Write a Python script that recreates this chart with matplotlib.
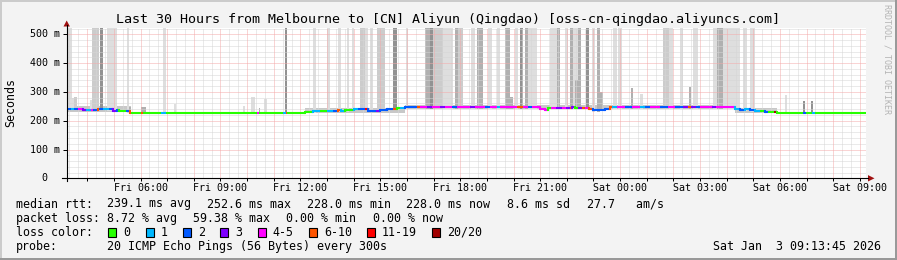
import matplotlib
matplotlib.use("Agg")
import matplotlib.pyplot as plt
import numpy as np
from matplotlib.transforms import Affine2D
from matplotlib.patches import Rectangle, Polygon
from matplotlib.collections import LineCollection
from matplotlib.lines import Line2D

W, H, DPI = 897, 260, 100
MONO = "DejaVu Sans Mono"

# ---------------- data ----------------
TITLE = "Last 30 Hours from Melbourne to [CN] Aliyun (Qingdao) [oss-cn-qingdao.aliyuncs.com]"
T_START = 3 + 13.75 / 60.0          # Fri 03:13:45, hours since Fri 00:00
T_END = T_START + 30.0
Y_MAX = 524                          # ms

x_tick_hours = [6, 9, 12, 15, 18, 21, 24, 27, 30, 33]
x_tick_labels = ["Fri 06:00", "Fri 09:00", "Fri 12:00", "Fri 15:00", "Fri 18:00",
                 "Fri 21:00", "Sat 00:00", "Sat 03:00", "Sat 06:00", "Sat 09:00"]
y_tick_values = [0, 100, 200, 300, 400, 500]
y_tick_labels = ["0", "100 m", "200 m", "300 m", "400 m", "500 m"]

loss_labels = ["0", "1", "2", "3", "4-5", "6-10", "11-19", "20/20"]
loss_colors = ["#26ff00", "#00b8ff", "#0059ff", "#7e00ff",
               "#ff00ff", "#ff5500", "#ff0000", "#a10000"]

# median rtt segments: start hour, median ms, loss class
seg_start = [3.23, 3.38, 3.49, 3.64, 3.83, 3.94, 4.13, 4.20, 4.39, 4.46,
             4.61, 4.80, 4.95, 5.10, 5.18, 5.44, 5.59, 5.66, 6.00, 6.11,
             6.75, 6.94, 10.39, 10.46, 11.36, 11.46, 11.51, 12.19, 12.41, 12.49,
             12.75, 12.94, 13.01, 13.24, 13.43, 13.54, 13.69, 13.88, 14.03, 14.18,
             14.44, 14.55, 14.85, 15.00, 15.26, 15.49, 15.64, 15.75, 15.94, 16.39,
             16.50, 16.76, 16.95, 17.25, 17.44, 17.70, 17.89, 18.38, 18.56, 18.94,
             19.13, 19.39, 19.50, 20.14, 20.36, 20.55, 20.70, 21.00, 21.19, 21.30,
             21.41, 21.60, 21.83, 21.98, 22.13, 22.20, 22.31, 22.43, 22.58, 22.69,
             22.84, 22.99, 23.25, 23.44, 23.63, 23.70, 23.89, 24.19, 24.45, 24.75,
             24.94, 25.13, 25.50, 25.80, 26.06, 26.36, 26.55, 26.66, 26.85, 27.00,
             27.45, 27.60, 28.31, 28.50, 28.69, 28.88, 29.06, 29.25, 29.44, 29.55,
             29.78, 29.89, 30.86, 30.98, 31.20, 31.31]
seg_ms = [241, 241, 240, 240, 239, 238, 238, 238, 240, 241,
          241, 240, 235, 236, 233, 233, 228, 228, 228, 228,
          228, 228, 228, 228, 228, 228, 228, 230, 232, 233,
          233, 235, 235, 235, 236, 235, 236, 238, 240, 241,
          241, 235, 235, 236, 242, 242, 243, 244, 247, 247,
          247, 247, 247, 247, 247, 247, 247, 247, 247, 247,
          247, 247, 247, 247, 247, 247, 247, 240, 238, 244,
          245, 245, 246, 246, 246, 247, 245, 246, 246, 245,
          242, 237, 238, 240, 247, 247, 247, 247, 247, 247,
          247, 247, 247, 247, 247, 247, 247, 247, 247, 247,
          247, 247, 240, 239, 240, 236, 235, 233, 232, 231,
          230, 228, 228, 228, 228, 228]
seg_loss = [2, 1, 2, 4, 3, 1, 4, 2, 5, 2,
            1, 2, 3, 2, 0, 2, 5, 0, 5, 0,
            1, 0, 4, 0, 1, 5, 0, 0, 0, 1,
            0, 0, 1, 2, 5, 1, 0, 0, 1, 2,
            6, 2, 3, 2, 2, 5, 0, 1, 2, 5,
            4, 3, 4, 3, 4, 2, 4, 3, 4, 2,
            4, 1, 4, 5, 4, 2, 4, 4, 4, 0,
            4, 3, 4, 3, 5, 3, 0, 3, 5, 4,
            5, 2, 2, 2, 5, 1, 4, 2, 4, 1,
            2, 4, 2, 4, 2, 3, 5, 3, 2, 4,
            3, 4, 1, 2, 1, 2, 1, 0, 2, 0,
            7, 0, 2, 0, 1, 0]

# thin smoke band around the median
band_start = [3.23, 12.19, 15.94, 28.31]
band_end = [5.66, 15.94, 28.31, 29.89]
band_lo = [231, 228, 240, 228]
band_hi = [250, 246, 254, 244]

# smoke bars: start hour, end hour, top ms (600 = off scale), shade class
bar_start = [3.29, 3.29, 3.50, 4.09, 4.16, 4.47, 4.76, 5.51, 5.55, 6.00,
             6.86, 7.24, 9.86, 10.13, 10.43, 10.65, 11.44, 12.49, 13.01, 13.43,
             13.76, 13.95, 14.25, 14.44, 14.63, 14.89, 15.49, 15.98, 16.69, 16.88,
             16.99, 17.36, 17.81, 17.93, 18.41, 18.64, 19.05, 19.39, 19.69, 19.88,
             20.06, 20.25, 20.44, 20.55, 21.38, 21.64, 21.94, 22.13, 22.24, 22.31,
             22.43, 22.73, 22.95, 23.14, 23.25, 23.74, 23.93, 24.41, 24.75, 25.61,
             25.84, 26.25, 26.59, 26.74, 27.49, 27.64, 27.86, 28.61, 28.88, 30.19,
             30.86, 31.16]
bar_end = [3.41, 3.63, 3.60, 4.20, 4.46, 4.60, 5.10, 5.58, 5.66, 6.19,
           6.94, 7.35, 9.94, 10.28, 10.50, 10.76, 11.51, 12.60, 13.13, 13.54,
           13.84, 14.03, 14.44, 14.55, 14.74, 15.19, 15.64, 16.05, 16.88, 16.99,
           17.36, 17.74, 17.93, 18.11, 18.56, 18.86, 19.20, 19.50, 19.88, 19.99,
           20.18, 20.36, 20.55, 20.89, 21.64, 21.75, 22.05, 22.24, 22.43, 22.43,
           22.54, 22.84, 23.06, 23.25, 23.36, 23.89, 24.08, 24.49, 24.86, 25.84,
           25.99, 26.36, 26.66, 26.93, 27.64, 27.86, 28.50, 28.76, 29.06, 30.26,
           30.94, 31.24]
bar_top = [600, 280, 282, 273, 600, 600, 600, 600, 249, 249,
           600, 259, 250, 284, 246, 276, 600, 600, 600, 600,
           600, 600, 600, 600, 600, 600, 600, 600, 600, 600,
           600, 600, 600, 600, 600, 600, 600, 600, 600, 283,
           600, 600, 600, 600, 600, 600, 600, 600, 600, 342,
           600, 600, 600, 600, 301, 600, 600, 314, 294, 600,
           600, 600, 316, 600, 600, 600, 600, 600, 600, 290,
           268, 268]
bar_shade = ["L", "L", "M", "L", "M", "K", "L", "L", "D", "D",
             "L", "L", "L", "L", "D", "L", "K", "L", "L", "L",
             "L", "L", "M", "L", "L", "M", "K", "L", "D", "K",
             "M", "L", "D", "M", "L", "D", "L", "L", "D", "D",
             "L", "K", "D", "L", "L", "D", "L", "D", "L", "D",
             "D", "K", "L", "D", "D", "L", "L", "D", "L", "M",
             "L", "L", "D", "L", "L", "D", "L", "L", "L", "L",
             "K", "K"]
shade_colors = {"L": "#dedede", "M": "#cccccc", "D": "#b0b0b0", "K": "#929292"}

rtt_row = [("median rtt:", 16.0), ("239.1 ms avg", 107.3), ("252.6 ms max", 207.3),
           ("228.0 ms min", 306.7), ("228.0 ms now", 406.0), ("8.6 ms sd", 507.3),
           ("27.7   am/s", 586.7)]
loss_row = [("packet loss:", 16.0), ("8.72 % avg", 107.3), ("59.38 % max", 192.7),
            ("0.00 % min", 286.0), ("0.00 % now", 372.7)]
probe_text = "20 ICMP Echo Pings (56 Bytes) every 300s"
date_text = "Sat Jan  3 09:13:45 2026"

# ---------------- figure ----------------
fig = plt.figure(figsize=(W / DPI, H / DPI), dpi=DPI, facecolor="#f3f3f3")
PX = Affine2D().scale(1.0 / W, -1.0 / H).translate(0, 1) + fig.transFigure

AX_L, AX_R, AX_T, AX_B = 66.7, 866.0, 27.5, 178.3
ax = fig.add_axes([AX_L / W, 1 - AX_B / H, (AX_R - AX_L) / W, (AX_B - AX_T) / H])
ax.set_xlim(T_START, T_END)
ax.set_ylim(0, Y_MAX)
ax.set_facecolor("white")
for s in ax.spines.values():
    s.set_visible(False)
ax.set_xticks(list(range(4, 34)))
ax.set_yticks(y_tick_values)
ax.tick_params(axis="x", length=2.0, width=0.72, direction="out", labelbottom=False, color="black")
ax.tick_params(axis="y", length=3.0, width=0.72, direction="out", labelleft=False, color="black")

# smoke band
for s, e, lo, hi in zip(band_start, band_end, band_lo, band_hi):
    ax.add_patch(Rectangle((s, lo), e - s, hi - lo, facecolor="#c8c8c8", lw=0, zorder=1))


def median_at(t):
    i = int(np.searchsorted(seg_start, t, side="right")) - 1
    return seg_ms[max(i, 0)]


# smoke bars
for s, e, top, sh in zip(bar_start, bar_end, bar_top, bar_shade):
    base = median_at(0.5 * (s + e)) - 5
    ax.add_patch(Rectangle((s, base), e - s, top - base,
                           facecolor=shade_colors[sh], lw=0, zorder=1.2 if sh in "DK" else 1.1))

# grid
MINOR = "#d6d6d6"
MAJOR = "#f4aaaa"
k0 = int(np.ceil(T_START * 3))
k1 = int(np.floor(T_END * 3))
for k in range(k0, k1 + 1):
    if k % 3:
        ax.axvline(k / 3.0, color=MINOR, lw=0.72, ls=(0, (1, 1)), zorder=2)
for v in range(20, Y_MAX, 20):
    if v % 100:
        ax.axhline(v, color=MINOR, lw=0.72, ls=(0, (1, 1)), zorder=2)
for t in range(4, 34):
    ax.axvline(t, color=MAJOR, lw=0.72, ls=(0, (1, 1)), zorder=2.1)
for v in range(100, Y_MAX, 100):
    ax.axhline(v, color=MAJOR, lw=0.72, ls=(0, (1, 1)), zorder=2.1)

# median line
seg_end = seg_start[1:] + [T_END]
hsegs = [((s, v), (e, v)) for s, e, v in zip(seg_start, seg_end, seg_ms)]
hcols = [loss_colors[c] for c in seg_loss]
ax.add_collection(LineCollection(hsegs, colors=hcols, linewidths=1.5, capstyle="butt", zorder=3))
vsegs, vcols = [], []
for i in range(1, len(seg_start)):
    if seg_ms[i] != seg_ms[i - 1]:
        vsegs.append(((seg_start[i], seg_ms[i - 1]), (seg_start[i], seg_ms[i])))
        vcols.append(loss_colors[seg_loss[i]])
ax.add_collection(LineCollection(vsegs, colors=vcols, linewidths=1.5, capstyle="projecting", zorder=3))

# axes lines and arrows
fig.add_artist(Line2D([AX_L, AX_L], [AX_B + 3, 25], transform=PX, color="black", lw=0.8))
fig.add_artist(Line2D([62, 868], [AX_B, AX_B], transform=PX, color="black", lw=0.8))
fig.add_artist(Polygon([(AX_L, 20.5), (AX_L - 3.2, 26.5), (AX_L + 3.2, 26.5)], closed=True,
                       transform=PX, facecolor="#a01010", edgecolor="none"))
fig.add_artist(Polygon([(874.5, AX_B), (868, AX_B - 3.2), (868, AX_B + 3.2)], closed=True,
                       transform=PX, facecolor="#a01010", edgecolor="none"))

# tick labels
for v, lab in zip(y_tick_values, y_tick_labels):
    off = -6.5 if lab != "0" else -19.5
    ax.annotate(lab, xy=(0, v), xycoords=("axes fraction", "data"), xytext=(off, 0),
                textcoords="offset pixels", ha="right", va="center",
                fontsize=7.2, family=MONO, color="black")
for h, lab in zip(x_tick_hours, x_tick_labels):
    ax.annotate(lab, xy=(h, 0), xycoords=("data", "axes fraction"), xytext=(0, -9.5),
                textcoords="offset pixels", ha="center", va="center",
                fontsize=7.2, family=MONO, color="black", annotation_clip=False)

# title, axis label, watermark
fig.text(447.5, 19.3, TITLE, transform=PX, ha="center", va="center", fontsize=9.6, family=MONO)
fig.text(11.2, 102.6, "Seconds", transform=PX, ha="center", va="center", rotation=90,
         fontsize=8.4, family=MONO)
fig.text(886.5, 59, "RRDTOOL / TOBI OETIKER", transform=PX, ha="center", va="center",
         rotation=270, fontsize=6.0, family=MONO, color="#b4b4b4")

# legend rows
LF = 8.4
for txt, x in rtt_row:
    fig.text(x, 204.0, txt, transform=PX, ha="left", va="center", fontsize=LF, family=MONO)
for txt, x in loss_row:
    fig.text(x, 218.3, txt, transform=PX, ha="left", va="center", fontsize=LF, family=MONO)
fig.text(16.0, 232.0, "loss color:", transform=PX, ha="left", va="center", fontsize=LF, family=MONO)
sq_x = 108.3
for lab, col in zip(loss_labels, loss_colors):
    fig.add_artist(Rectangle((sq_x, 227.5), 8, 9, transform=PX, facecolor=col,
                             edgecolor="black", lw=0.8))
    fig.text(sq_x + 15, 232.0, lab, transform=PX, ha="left", va="center", fontsize=LF, family=MONO)
    sq_x += 15 + 7.0 * len(lab) + 15.3
fig.text(16.0, 246.3, "probe:", transform=PX, ha="left", va="center", fontsize=LF, family=MONO)
fig.text(107.3, 246.3, probe_text, transform=PX, ha="left", va="center", fontsize=LF, family=MONO)
fig.text(881.0, 246.3, date_text, transform=PX, ha="right", va="center", fontsize=LF, family=MONO)

# frame
fig.add_artist(Rectangle((0, 0), W, 2, transform=PX, facecolor="#cbcbcb", lw=0))
fig.add_artist(Rectangle((0, 0), 2, H, transform=PX, facecolor="#cbcbcb", lw=0))
fig.add_artist(Rectangle((0, H - 2), W, 2, transform=PX, facecolor="#999999", lw=0))
fig.add_artist(Rectangle((W - 2, 0), 2, H, transform=PX, facecolor="#999999", lw=0))

fig.savefig("out.png", dpi=DPI, facecolor=fig.get_facecolor())
